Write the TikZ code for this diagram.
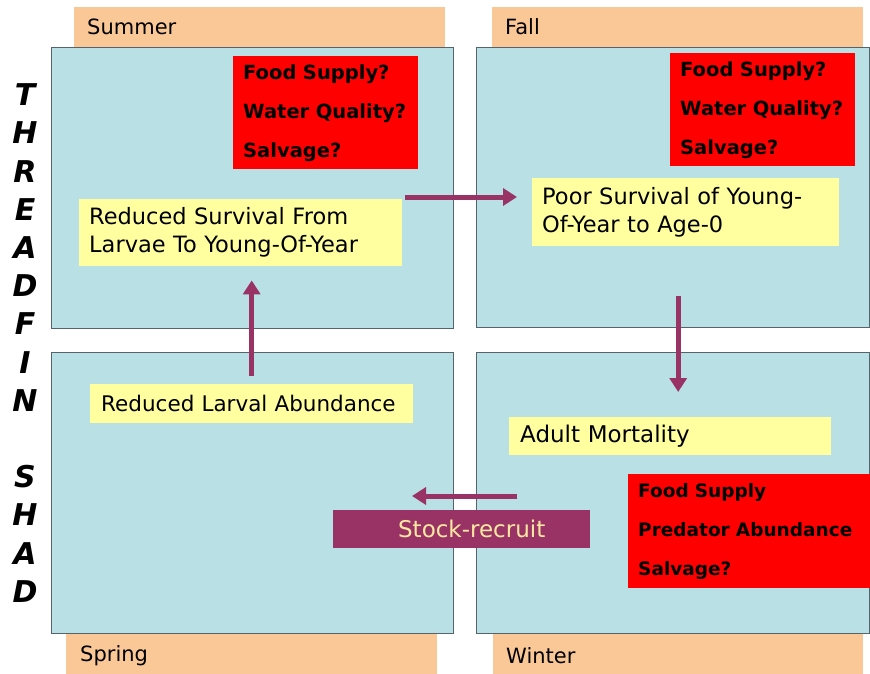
\documentclass[tikz,border=0pt]{standalone}
\usepackage{fontspec}
\setmainfont{DejaVu Sans}
\usetikzlibrary{arrows.meta}
\definecolor{panelblue}{RGB}{185,224,228}
\definecolor{panelborder}{RGB}{85,100,108}
\definecolor{tabor}{RGB}{250,200,150}
\definecolor{yel}{RGB}{255,255,160}
\definecolor{arrowc}{RGB}{153,51,102}
\definecolor{cream}{RGB}{255,232,160}
\begin{document}
\begin{tikzpicture}[x=1pt,y=-1pt,
  panel/.style={draw=panelborder,line width=1.2pt,fill=panelblue,anchor=north west,inner sep=0pt},
  tab/.style={fill=tabor,anchor=north west,inner sep=0pt},
  redbox/.style={fill=red,anchor=north west,align=left,inner xsep=10pt,inner ysep=0pt,font=\bfseries\fontsize{19.5}{39}\selectfont},
  yelbox/.style={fill=yel,anchor=north west,align=left,inner xsep=10pt,inner ysep=0pt,font=\fontsize{22.5}{28}\selectfont},
  flow/.style={draw=arrowc,line width=5pt,-{Triangle[length=14pt,width=17pt]}},
  tabtext/.style={anchor=west,font=\fontsize{21}{24}\selectfont,inner sep=0pt}]
\useasboundingbox (0,0) rectangle (870,674);
% tabs
\node[tab,minimum width=371pt,minimum height=40pt] (summer) at (74,7) {};
\node[tab,minimum width=371pt,minimum height=40pt] (fall) at (492,7) {};
\node[tab,minimum width=371pt,minimum height=41pt] (spring) at (66,633) {};
\node[tab,minimum width=370pt,minimum height=41pt] (winter) at (493,633) {};
\node[tabtext] (summert) at (87,27) {Summer};
\node[tabtext] (fallt) at (505,27) {Fall};
\node[tabtext] (springt) at (80,656) {Spring};
\node[tabtext] (wintert) at (506,656) {Winter};
% panels
\node[panel,minimum width=402pt,minimum height=281pt] (tl) at (51,47) {};
\node[panel,minimum width=393pt,minimum height=280pt] (tr) at (476,47) {};
\node[panel,minimum width=402pt,minimum height=281pt] (bl) at (51,352) {};
\node[panel,minimum width=393pt,minimum height=281pt] (br) at (476,352) {};
% red boxes
\node[redbox,text width=165pt,minimum height=113pt] (tlr) at (233,56) {\mbox{Food Supply?}\\\mbox{Water Quality?}\\\mbox{Salvage?}};
\node[redbox,text width=165pt,minimum height=113pt] (trr) at (670,53) {\mbox{Food Supply?}\\\mbox{Water Quality?}\\\mbox{Salvage?}};
\node[redbox,text width=222pt,minimum height=114pt,font=\bfseries\fontsize{18.5}{39}\selectfont] (brr) at (628,474) {\mbox{Food Supply}\\\mbox{Predator Abundance}\\\mbox{Salvage?}};
% yellow boxes
\node[yelbox,text width=303pt,minimum height=67pt] (tly) at (79,199) {Reduced Survival From\\Larvae To Young-Of-Year};
\node[yelbox,text width=287pt,minimum height=68pt] (try) at (532,178) {Poor Survival of Young-\\Of-Year to Age-0};
\node[yelbox,text width=301pt,minimum height=39pt,inner xsep=11pt,font=\fontsize{21.5}{28}\selectfont] (bly) at (90,384) {Reduced Larval Abundance};
\node[yelbox,text width=300pt,minimum height=38pt,inner xsep=11pt,font=\fontsize{23}{28}\selectfont] (bry) at (509,417) {Adult Mortality};
% stock-recruit
\node[fill=arrowc,anchor=north west,minimum width=257pt,minimum height=38pt,inner sep=0pt,text=cream,font=\fontsize{23}{24}\selectfont] (stock) at (333,510) {\hspace{20pt}Stock-recruit};
% side title
\node[align=center,inner sep=0pt,font=\bfseries\itshape\fontsize{30}{38.2}\selectfont] (title) at (25,343) {T\\H\\R\\E\\A\\D\\F\\I\\N\\[38.2pt]S\\H\\A\\D};
% arrows
\coordinate (rs) at ([xshift=3pt,yshift=2pt]tly.north east);
\draw[flow,shorten <=8pt,shorten >=14pt] (bly.north) -- (bly.north |- tly.south);
\draw[flow,shorten >=15pt] (rs) -- (try.west |- rs);
\draw[flow,shorten <=50pt,shorten >=25pt] ([xshift=-7.5pt]try.south) -- ([xshift=-7.5pt]try.south |- bry.north);
\draw[flow] ([xshift=-73pt,yshift=14pt]stock.north east) -- ([xshift=79pt,yshift=14pt]stock.north west);
\end{tikzpicture}
\end{document}
